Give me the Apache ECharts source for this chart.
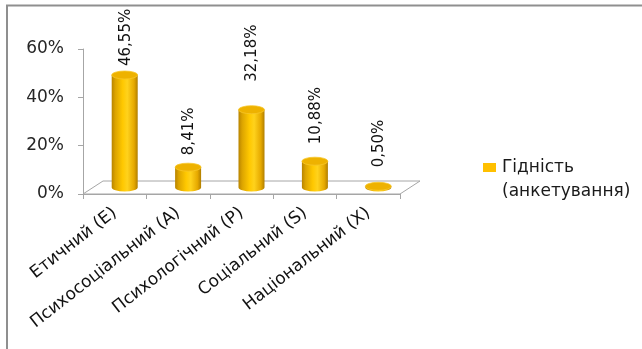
<!DOCTYPE html>
<html>
<head>
<meta charset="utf-8">
<script src="https://cdn.jsdelivr.net/npm/echarts@6/dist/echarts.min.js"></script>
<style>
  html, body { margin: 0; padding: 0; background: #ffffff; }
  #chart { width: 642px; height: 349px; }
</style>
</head>
<body>
<div id="chart"></div>
<script>
// Оцінка складових гідності за результатами анкетування
const categories = ['Етичний (Е)', 'Психосоціальний (А)', 'Психологічний (Р)', 'Соціальний (S)', 'Національний (Х)'];
const values = [46.55, 8.41, 32.18, 10.88, 0.50];
const seriesName = 'Гідність (анкетування)';
const yTicks = [0, 20, 40, 60];

// Per-bar gap between the cylinder top and its rotated value label (px)
const labelGap = [5, 8, 24, 13, 15];

const FONT = '"DejaVu Sans", sans-serif';
const GOLD = '#FFC000';
const DEPTH = [20, -13];          // floor depth offset
const MID = [DEPTH[0] / 2, DEPTH[1] / 2];

function fmt(v) {
  return v.toFixed(2).replace('.', ',') + '%';
}

const bodyGradient = new echarts.graphic.LinearGradient(0, 0, 1, 0, [
  { offset: 0, color: '#b88400' },
  { offset: 0.14, color: '#dca400' },
  { offset: 0.42, color: '#ffc800' },
  { offset: 0.6, color: '#ffd21c' },
  { offset: 0.86, color: '#e6a900' },
  { offset: 1, color: '#b07e00' }
]);

function renderFloor(params, api) {
  const cs = params.coordSys;
  const x0 = cs.x, x1 = cs.x + cs.width, y0 = cs.y + cs.height;
  return {
    type: 'polygon',
    shape: {
      points: [
        [x0, y0], [x1, y0],
        [x1 + DEPTH[0], y0 + DEPTH[1]],
        [x0 + DEPTH[0], y0 + DEPTH[1]]
      ]
    },
    style: { fill: '#ffffff', stroke: '#a6a6a6', lineWidth: 1 },
    silent: true
  };
}

function renderCylinder(params, api) {
  const i = api.value(0);
  const v = api.value(1);
  const topPt = api.coord([i, v]);
  const basePt = api.coord([i, 0]);
  const band = api.size([1, 0])[0];
  const rx = band * 0.205;
  const ry = 4;
  const cx = basePt[0] + MID[0];
  const baseY = basePt[1] + MID[1];
  const topY = topPt[1] + MID[1];
  const l = cx - rx, r = cx + rx;

  const body = 'M' + l + ',' + topY +
    ' L' + l + ',' + baseY +
    ' A' + rx + ',' + ry + ' 0 0 0 ' + r + ',' + baseY +
    ' L' + r + ',' + topY + ' Z';
  const cap = 'M' + l + ',' + topY +
    ' A' + rx + ',' + ry + ' 0 1 0 ' + r + ',' + topY +
    ' A' + rx + ',' + ry + ' 0 1 0 ' + l + ',' + topY + ' Z';

  return {
    type: 'group',
    children: [
      { type: 'path', shape: { pathData: body }, style: { fill: bodyGradient } },
      { type: 'path', shape: { pathData: cap }, style: { fill: '#eeb200', stroke: '#f8c62a', lineWidth: 0.8 } },
      {
        type: 'text',
        x: cx + 1,
        y: topY - ry - labelGap[params.dataIndex],
        rotation: Math.PI / 2,
        style: {
          text: fmt(v),
          font: '15px ' + FONT,
          fill: '#111111',
          align: 'left',
          verticalAlign: 'middle'
        }
      }
    ]
  };
}

const chart = echarts.init(document.getElementById('chart'), null, { renderer: 'canvas' });

chart.setOption({
  animation: false,
  backgroundColor: '#ffffff',
  grid: { left: 83, top: 49, width: 317, height: 145, containLabel: false },
  xAxis: {
    type: 'category',
    data: categories,
    boundaryGap: true,
    axisLine: { show: true, lineStyle: { color: '#a6a6a6', width: 1 } },
    axisTick: { show: true, alignWithLabel: false, length: 5, lineStyle: { color: '#a6a6a6' } },
    axisLabel: {
      interval: 0,
      rotate: 38,
      margin: 17,
      color: '#111111',
      fontFamily: FONT,
      fontSize: 17
    }
  },
  yAxis: {
    type: 'value',
    min: yTicks[0],
    max: yTicks[yTicks.length - 1],
    interval: yTicks[1] - yTicks[0],
    axisLine: { show: true, lineStyle: { color: '#a6a6a6', width: 1 } },
    axisTick: { show: true, length: 5, lineStyle: { color: '#a6a6a6' } },
    splitLine: { show: false },
    axisLabel: {
      formatter: '{value}%',
      margin: 19,
      color: '#262626',
      fontFamily: FONT,
      fontSize: 17
    }
  },
  graphic: [
    {
      type: 'polyline',
      shape: { points: [[7, 349], [7, 5.5], [642, 5.5]] },
      style: { stroke: '#8f8f8f', lineWidth: 2, fill: null },
      silent: true
    },
    {
      type: 'rect',
      shape: { x: 483, y: 163, width: 13, height: 9 },
      style: { fill: GOLD }
    },
    {
      type: 'text',
      x: 502,
      y: 156,
      style: {
        text: 'Гідність\n(анкетування)',
        font: '17px ' + FONT,
        lineHeight: 24,
        fill: '#1a1a1a',
        align: 'left',
        verticalAlign: 'top'
      }
    }
  ],
  series: [
    {
      type: 'custom',
      name: 'floor',
      renderItem: renderFloor,
      data: [[0, 0]],
      z: 1,
      silent: true
    },
    {
      type: 'custom',
      name: seriesName,
      renderItem: renderCylinder,
      data: values.map((v, i) => [i, v]),
      encode: { x: 0, y: 1 },
      z: 2,
      itemStyle: { color: GOLD }
    }
  ]
});
</script>
</body>
</html>
